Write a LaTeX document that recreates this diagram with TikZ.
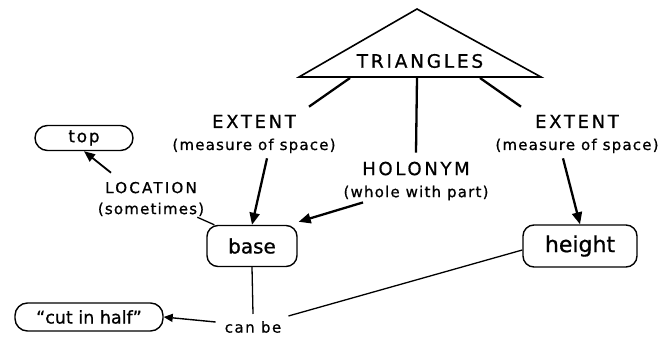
\documentclass[tikz,border=0pt]{standalone}
\usepackage{fontspec}
\setmainfont[FakeBold=0.8]{DejaVu Sans}
\newfontfamily\spf[LetterSpace=15,FakeBold=0.8]{DejaVu Sans}
\newfontfamily\spl[LetterSpace=8,FakeBold=0.8]{DejaVu Sans}
\newfontfamily\spg[LetterSpace=10,FakeBold=0.8]{DejaVu Sans}
\usetikzlibrary{arrows.meta,calc}
\begin{document}
\begin{tikzpicture}[x=1pt,y=-1pt,
  concept/.style={draw, line width=1.4pt, rounded corners=11pt, inner sep=0pt},
  pill/.style={draw, line width=1.4pt, rounded corners=12.5pt, inner sep=0pt},
  link/.style={align=center, inner sep=1pt, font=\spl\fontsize{15}{22}\selectfont},
  arr/.style={line width=2.3pt, -{Triangle[length=12pt,width=10pt]}},
  sarr/.style={line width=1.4pt, -{Triangle[length=9pt,width=8pt]}},
  tline/.style={line width=2.3pt},
  thin/.style={line width=1.3pt}]
\useasboundingbox[fill=white] (0,0) rectangle (664,344);
% triangle concept
\draw[line width=1.6pt, line join=miter] (417,9) coordinate (apex) -- (541,77) coordinate (tR) -- (299,77) coordinate (tL) -- cycle;
\node[font=\spf\fontsize{18.5}{22}\selectfont] (tri) at (420,61) {TRIANGLES};
\coordinate (t1) at (350,78);
\coordinate (t2) at (417,78);
\coordinate (t3) at (480,78);
% concepts
\node[concept, minimum width=90pt, minimum height=41pt, font=\fontsize{20}{24}\selectfont] (base) at (252,246) {base};
\node[concept, minimum width=114pt, minimum height=42pt, font=\fontsize{22}{26}\selectfont] (height) at (580,246) {height};
\node[pill, minimum width=98pt, minimum height=25pt, font=\spg\fontsize{17}{20}\selectfont] (top) at (84,138) {top};
\node[pill, minimum width=148pt, minimum height=28pt, font=\fontsize{17.5}{20}\selectfont] (cut) at (89,317) {“cut in half”};
% linking phrases
\node[link] (extL) at (254,134) {{\spf\fontsize{18}{22}\selectfont EXTENT}\\(measure of space)};
\node[link] (extR) at (577,134) {{\spf\fontsize{18}{22}\selectfont EXTENT}\\(measure of space)};
\node[link] (hol) at (416,181) {{\spf\fontsize{18}{22}\selectfont HOLONYM}\\(whole with part)};
\node[link, font=\spl\fontsize{15}{21}\selectfont] (loc) at (151,199) {{\spf\fontsize{15}{21}\selectfont LOCATION}\\(sometimes)};
\node[inner sep=1pt, font=\spg\fontsize{15}{18}\selectfont] (canbe) at (253,327) {can be};
% connectors
\draw[tline] (t1) -- ($(extL.north)+(55,-7)$);
\draw[tline] (t2) -- ($(hol.north)+(0,-8)$);
\draw[tline] (t3) -- ($(extR.north)+(-56,-7)$);
\draw[arr] ($(extL.south)+(13,4)$) -- (base.north);
\draw[arr] ($(hol.south)+(-53,1)$) -- ($(base.north east)+(1,-3)$);
\draw[arr] ($(extR.south)+(-14,4)$) -- (height.north);
\draw[line width=1.8pt, -{Triangle[length=11pt,width=9pt]}] ($(loc.north)+(-40,-8)$) -- (top.south);
\draw[thin] ($(loc.south east)+(-8,0)$) -- ($(base.north west)+(8,0)$);
\draw[thin] (base.south) -- ($(canbe.north)+(0,-6)$);
\draw[sarr] ($(canbe.west)+(-8,-5)$) -- (cut.east);
\draw[thin] ($(canbe.north east)+(6,-4)$) -- ($(height.west)+(0,4)$);
\end{tikzpicture}
\end{document}
